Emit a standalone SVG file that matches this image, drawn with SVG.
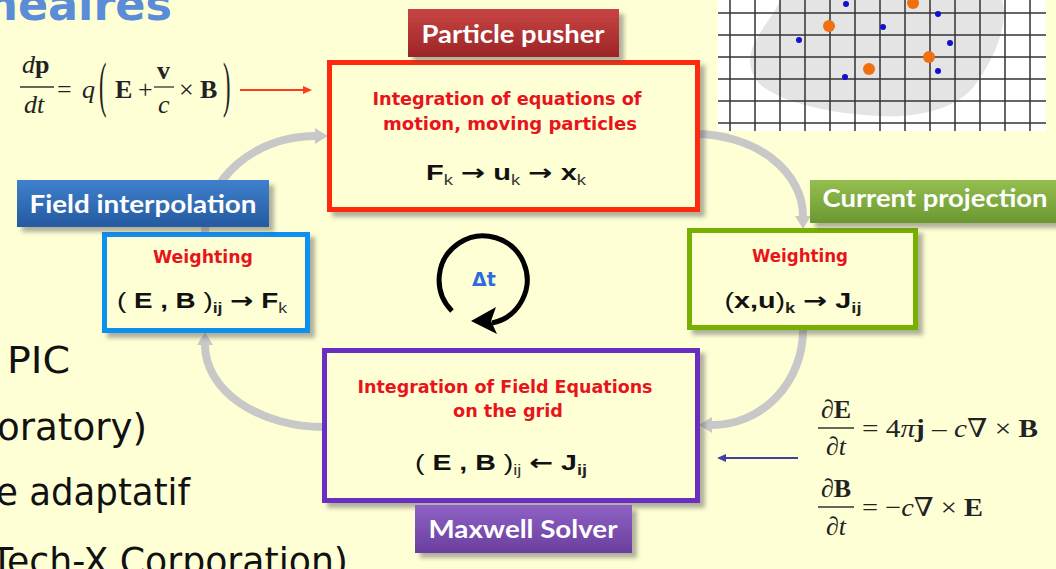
<svg xmlns="http://www.w3.org/2000/svg" width="1056" height="569" viewBox="0 0 1056 569">
<defs>
<style>
.bg{fill:#FFFFD5}
.box{fill:#FFFFD5;stroke-width:5}
.lbl{font-family:Lato,"Open Sans","DejaVu Sans",sans-serif;font-weight:bold;font-size:25px;fill:#fff;text-anchor:middle}
.red{font-family:"DejaVu Sans","Noto Sans",sans-serif;font-size:17px;font-weight:bold;fill:#E8141C;text-anchor:middle}
.f{font-family:"Liberation Sans",Arial,sans-serif;font-size:22px;font-weight:bold;fill:#111;text-anchor:middle}
.ar{font-family:"DejaVu Sans",sans-serif;font-weight:bold}
.n{font-weight:normal}
.sb{font-size:14px;font-weight:normal;fill:#333}
.sbb{font-size:14px;font-weight:bold;fill:#222}
.tm{font-family:"Liberation Serif","DejaVu Serif",serif;font-size:26px;fill:#222}
.it{font-style:italic}
.bd{font-weight:bold}
.body{font-family:"DejaVu Sans",Tahoma,sans-serif;font-size:38px;fill:#111}
.conn{fill:none;stroke:#C8C8C8;stroke-width:8}
.grid line{stroke:#333;stroke-width:1.5}
</style>
<filter id="sh" x="-10%" y="-10%" width="130%" height="140%">
<feDropShadow dx="5" dy="5" stdDeviation="2" flood-color="#555" flood-opacity="0.45"/>
</filter>
<linearGradient id="gRed" x1="0" y1="0" x2="0" y2="1"><stop offset="0" stop-color="#C94444"/><stop offset="1" stop-color="#9C2526"/></linearGradient>
<linearGradient id="gBlue" x1="0" y1="0" x2="0" y2="1"><stop offset="0" stop-color="#3F80CC"/><stop offset="1" stop-color="#255AA0"/></linearGradient>
<linearGradient id="gGreen" x1="0" y1="0" x2="0" y2="1"><stop offset="0" stop-color="#95BE50"/><stop offset="1" stop-color="#6A9830"/></linearGradient>
<linearGradient id="gPurple" x1="0" y1="0" x2="0" y2="1"><stop offset="0" stop-color="#8E62C4"/><stop offset="1" stop-color="#6A3E9E"/></linearGradient>
<marker id="mg" markerUnits="userSpaceOnUse" markerWidth="14" markerHeight="18" refX="0" refY="9" orient="auto"><path d="M0,1 L13,9 L0,17 Z" fill="#C8C8C8"/></marker>
<marker id="mr" markerUnits="userSpaceOnUse" markerWidth="10" markerHeight="8" refX="0" refY="4" orient="auto"><path d="M0,0 L9,4 L0,8 Z" fill="#FF3B1A"/></marker>
<marker id="mb" markerUnits="userSpaceOnUse" markerWidth="10" markerHeight="8" refX="0" refY="4" orient="auto"><path d="M0,0 L9,4 L0,8 Z" fill="#3F3F9F"/></marker>
<clipPath id="cg"><rect x="718" y="0" width="328" height="131"/></clipPath>
</defs>
<rect class="bg" x="0" y="0" width="1056" height="569"/>

<g id="title">
<text x="172" y="20" text-anchor="end" font-family="'DejaVu Sans',Verdana,sans-serif" font-weight="bold" font-size="44.5" fill="#5A8CD8">néaires</text>
</g>

<g id="text-left">
<text class="body" x="7" y="373" textLength="63" lengthAdjust="spacingAndGlyphs">PIC</text>
<text class="body" x="-3" y="440" textLength="150" lengthAdjust="spacingAndGlyphs">oratory)</text>
<text class="body" x="-4" y="505" textLength="194" lengthAdjust="spacingAndGlyphs">e adaptatif</text>
<text class="body" x="-9" y="574" textLength="357" lengthAdjust="spacingAndGlyphs">Tech-X Corporation)</text>
</g>

<g id="grid-figure" clip-path="url(#cg)">
<rect x="718" y="0" width="328" height="131" fill="#fff"/>
<path d="M780,0 L1002,0 C1010,25 992,62 975,85 C958,108 920,118 880,116 C830,114 782,102 762,86 C746,73 748,52 758,36 C768,20 778,8 780,0 Z" fill="#E4E4E4"/>
<g class="grid">
<line x1="730" y1="0" x2="730" y2="131"/><line x1="755" y1="0" x2="755" y2="131"/><line x1="780" y1="0" x2="780" y2="131"/><line x1="805" y1="0" x2="805" y2="131"/><line x1="830" y1="0" x2="830" y2="131"/><line x1="855" y1="0" x2="855" y2="131"/><line x1="880" y1="0" x2="880" y2="131"/><line x1="905" y1="0" x2="905" y2="131"/><line x1="930" y1="0" x2="930" y2="131"/><line x1="955" y1="0" x2="955" y2="131"/><line x1="980" y1="0" x2="980" y2="131"/><line x1="1005" y1="0" x2="1005" y2="131"/><line x1="1030" y1="0" x2="1030" y2="131"/>
<line x1="718" y1="13" x2="1046" y2="13"/><line x1="718" y1="35" x2="1046" y2="35"/><line x1="718" y1="57" x2="1046" y2="57"/><line x1="718" y1="79" x2="1046" y2="79"/><line x1="718" y1="101" x2="1046" y2="101"/><line x1="718" y1="123" x2="1046" y2="123"/>
</g>
<g fill="#F07010">
<circle cx="829" cy="26" r="6"/><circle cx="913" cy="3" r="6"/><circle cx="929" cy="57" r="6"/><circle cx="869" cy="69" r="6"/>
</g>
<g fill="#1010D0">
<circle cx="846" cy="4" r="3"/><circle cx="938" cy="14" r="3"/><circle cx="883" cy="27" r="3"/><circle cx="799" cy="40" r="3"/><circle cx="950" cy="43" r="3"/><circle cx="938" cy="71" r="3"/><circle cx="845" cy="77" r="3"/>
</g>
</g>

<g id="eq-lorentz" class="tm">
<text x="22" y="73"><tspan class="it">d</tspan><tspan class="bd">p</tspan></text>
<line x1="20" y1="87" x2="54" y2="87" stroke="#333" stroke-width="1.3"/>
<text x="24" y="113" class="it">dt</text>
<text x="57" y="98">=</text>
<text x="82" y="98" class="it">q</text>
<text transform="translate(99,105) scale(0.8,2.2)" font-size="28">(</text>
<text x="115" y="98" class="bd">E</text>
<text x="138" y="98">+</text>
<text x="157" y="79" class="bd">v</text>
<line x1="154" y1="87" x2="174" y2="87" stroke="#333" stroke-width="1.3"/>
<text x="158" y="113" class="it">c</text>
<text x="179" y="98">×</text>
<text x="200" y="98" class="bd">B</text>
<text transform="translate(223,105) scale(0.8,2.2)" font-size="28">)</text>
</g>

<g id="eq-maxwell" class="tm">
<text x="836" y="418" text-anchor="middle">∂<tspan class="bd">E</tspan></text>
<line x1="818" y1="428" x2="854" y2="428" stroke="#333" stroke-width="1.3"/>
<text x="836" y="455" text-anchor="middle">∂<tspan class="it">t</tspan></text>
<text x="862" y="437" textLength="176" lengthAdjust="spacingAndGlyphs">= 4<tspan class="it">π</tspan><tspan class="bd">j</tspan> – <tspan class="it">c</tspan>∇ × <tspan class="bd">B</tspan></text>
<text x="836" y="497" text-anchor="middle">∂<tspan class="bd">B</tspan></text>
<line x1="818" y1="507" x2="854" y2="507" stroke="#333" stroke-width="1.3"/>
<text x="836" y="535" text-anchor="middle">∂<tspan class="it">t</tspan></text>
<text x="862" y="516" textLength="121" lengthAdjust="spacingAndGlyphs">= −<tspan class="it">c</tspan>∇ × <tspan class="bd">E</tspan></text>
</g>

<g id="connectors">
<path class="conn" d="M205,232 A110,96 0 0 1 315,136" marker-end="url(#mg)"/>
<path class="conn" d="M695,134 A108,82 0 0 1 803,216" marker-end="url(#mg)"/>
<path class="conn" d="M803,330 A91,95 0 0 1 712,425" marker-end="url(#mg)"/>
<path class="conn" d="M324,427 A119,82 0 0 1 205,345" marker-end="url(#mg)"/>
<line x1="240" y1="90" x2="303" y2="90" stroke="#FF3B1A" stroke-width="2" marker-end="url(#mr)"/>
<line x1="798" y1="458" x2="726" y2="458" stroke="#3F3F9F" stroke-width="2" marker-end="url(#mb)"/>
</g>

<g id="node-pusher">
<rect x="329.5" y="62.5" width="368" height="147" class="box" stroke="#FF2A0A" filter="url(#sh)"/>
<rect x="408" y="9" width="211" height="48" fill="url(#gRed)" filter="url(#sh)"/>
<text class="lbl" x="513" y="43" textLength="183" lengthAdjust="spacingAndGlyphs">Particle pusher</text>
<text class="red" x="507" y="105" textLength="269" lengthAdjust="spacingAndGlyphs">Integration of equations of</text>
<text class="red" x="510" y="130" textLength="254" lengthAdjust="spacingAndGlyphs">motion, moving particles</text>
<text class="f" x="506" y="180" textLength="160" lengthAdjust="spacingAndGlyphs">F<tspan class="sb" dy="5">k</tspan><tspan dy="-5"> </tspan><tspan class="ar">→</tspan> u<tspan class="sb" dy="5">k</tspan><tspan dy="-5"> </tspan><tspan class="ar">→</tspan> x<tspan class="sb" dy="5">k</tspan></text>
</g>

<g id="node-interp">
<rect x="104.5" y="234.5" width="203" height="96" class="box" stroke="#1190F0" filter="url(#sh)"/>
<rect x="17" y="180" width="252" height="47" fill="url(#gBlue)" filter="url(#sh)"/>
<text class="lbl" x="143" y="213" textLength="227" lengthAdjust="spacingAndGlyphs">Field interpolation</text>
<text class="red" x="203" y="263" textLength="100" lengthAdjust="spacingAndGlyphs">Weighting</text>
<text class="f" x="202" y="308" textLength="170" lengthAdjust="spacingAndGlyphs"><tspan class="n">(</tspan> E , B <tspan class="n">)</tspan><tspan class="sbb" dy="5">ij</tspan><tspan dy="-5"> </tspan><tspan class="ar">→</tspan> F<tspan class="sb" dy="5">k</tspan></text>
</g>

<g id="node-projection">
<rect x="689.5" y="230.5" width="226" height="97" class="box" stroke="#77B000" filter="url(#sh)"/>
<rect x="810" y="180" width="250" height="43" fill="url(#gGreen)" filter="url(#sh)"/>
<text class="lbl" x="935" y="207" textLength="225" lengthAdjust="spacingAndGlyphs">Current projection</text>
<text class="red" x="800" y="262" textLength="96" lengthAdjust="spacingAndGlyphs">Weighting</text>
<text class="f" x="793" y="308" textLength="137" lengthAdjust="spacingAndGlyphs"><tspan class="n">(</tspan>x,u<tspan class="n">)</tspan><tspan class="sbb" dy="5">k</tspan><tspan dy="-5"> </tspan><tspan class="ar">→</tspan> J<tspan class="sbb" dy="5">ij</tspan></text>
</g>

<g id="node-solver">
<rect x="324.5" y="350.5" width="373" height="150" class="box" stroke="#6A2FC0" filter="url(#sh)"/>
<rect x="415" y="505" width="217" height="48" fill="url(#gPurple)" filter="url(#sh)"/>
<text class="lbl" x="523" y="538" textLength="189" lengthAdjust="spacingAndGlyphs">Maxwell Solver</text>
<text class="red" x="505" y="393" textLength="295" lengthAdjust="spacingAndGlyphs">Integration of Field Equations</text>
<text class="red" x="508" y="417" textLength="110" lengthAdjust="spacingAndGlyphs">on the grid</text>
<text class="f" x="501" y="470" textLength="172" lengthAdjust="spacingAndGlyphs"><tspan class="n">(</tspan> E , B <tspan class="n">)</tspan><tspan class="sb" dy="5">ij</tspan><tspan dy="-5"> </tspan><tspan class="ar">←</tspan> J<tspan class="sbb" dy="5">ij</tspan></text>
</g>

<g id="dt-cycle">
<path d="M452,311 A44,44 0 1 1 492,323" fill="none" stroke="#000" stroke-width="5"/>
<path d="M471,321 L496,307 L491,321 L497,334 Z" fill="#000"/>
<text x="484" y="286" text-anchor="middle" font-family="'DejaVu Sans',sans-serif" font-weight="bold" font-size="19" fill="#2D6BE0">Δt</text>
</g>
</svg>
